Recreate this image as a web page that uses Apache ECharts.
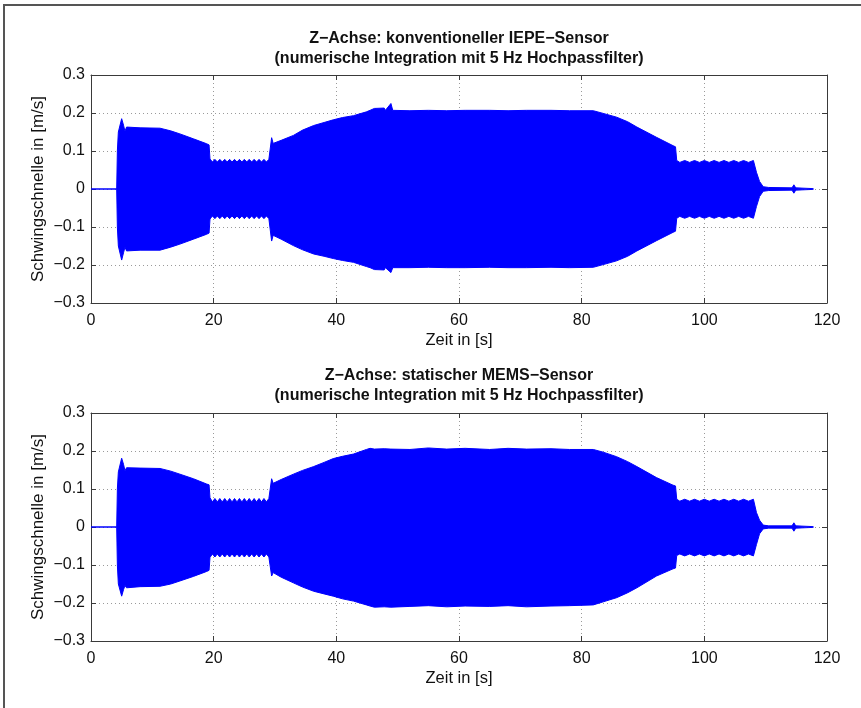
<!DOCTYPE html>
<html>
<head>
<meta charset="utf-8">
<script src="https://cdn.jsdelivr.net/npm/echarts@6/dist/echarts.min.js"></script>
<style>
html,body{margin:0;padding:0;background:#fff;}
#chart{width:861px;height:708px;}
</style>
</head>
<body>
<div id="chart"></div>
<script>
// ---- data ----
const xTicks = [0, 20, 40, 60, 80, 100, 120];
const yTicks = [-0.3, -0.2, -0.1, 0, 0.1, 0.2, 0.3];

const titleIEPE = 'Z\u2212Achse: konventioneller IEPE\u2212Sensor';
const titleMEMS = 'Z\u2212Achse: statischer MEMS\u2212Sensor';
const subTitle = '(numerische Integration mit 5 Hz Hochpassfilter)';
const xName = 'Zeit in [s]';
const yName = 'Schwingschnelle in [m/s]';

// time stamps of envelope points [s]
const timeS = [0, 4.19, 4.3, 4.46, 5.0, 5.3, 5.54, 5.8, 6.1, 8.0, 11.25, 13.0, 14.5, 16.7, 18.86, 19.25, 19.4,
  19.8, 20.2, 20.6, 21.0, 21.4, 21.8, 22.2, 22.6, 23.0, 23.4, 23.8, 24.2, 24.6, 25.0, 25.4, 25.8, 26.2, 26.6, 27.0, 27.4, 27.8, 28.2, 28.6, 29.0,
  29.25, 29.45, 29.7, 31.0, 33.0, 34.5, 36.3, 38.0, 39.5, 41.0, 42.8, 44.9, 45.5, 46.2, 46.4, 47.8, 48.0, 48.9, 49.2,
  52, 55, 58, 61, 65, 68, 71, 75, 78, 81.9, 83.5, 85.7, 87.5, 89.0, 92.2, 94.9, 95.3, 95.5,
  96.0, 96.8, 97.6, 98.4, 99.2, 100.0, 100.8, 101.6, 102.4, 103.2, 104.0, 104.8, 105.6, 106.4, 107.2, 108.0,
  108.3, 108.5, 109.0, 109.6, 110.5, 114.3, 114.6, 114.9, 117.8];

// IEPE sensor: upper / lower envelope [m/s]
const iepeUpper = [0, 0, 0.10, 0.15, 0.185, 0.168, 0.152, 0.163, 0.160, 0.161, 0.160, 0.153, 0.145, 0.132, 0.119, 0.116, 0.079,
  0.071, 0.078, 0.071, 0.078, 0.071, 0.078, 0.071, 0.078, 0.071, 0.078, 0.071, 0.078, 0.071, 0.078, 0.071, 0.078, 0.071, 0.078, 0.071, 0.078, 0.071, 0.078, 0.071, 0.078,
  0.080, 0.135, 0.120, 0.128, 0.141, 0.155, 0.167, 0.175, 0.182, 0.188, 0.193, 0.203, 0.207, 0.212, 0.207, 0.213, 0.207, 0.225, 0.207,
  0.206, 0.207, 0.206, 0.207, 0.207, 0.206, 0.207, 0.207, 0.206, 0.206, 0.199, 0.189, 0.177, 0.163, 0.136, 0.114, 0.111, 0.075,
  0.070, 0.075, 0.070, 0.075, 0.070, 0.075, 0.070, 0.075, 0.070, 0.075, 0.070, 0.075, 0.070, 0.075, 0.070, 0.075,
  0.073, 0.044, 0.020, 0.006, 0.004, 0.003, 0.011, 0.003, 0.001];
const iepeLower = [0, 0, -0.10, -0.15, -0.187, -0.168, -0.153, -0.163, -0.161, -0.161, -0.161, -0.153, -0.145, -0.132, -0.119, -0.116, -0.079,
  -0.071, -0.078, -0.071, -0.078, -0.071, -0.078, -0.071, -0.078, -0.071, -0.078, -0.071, -0.078, -0.071, -0.078, -0.071, -0.078, -0.071, -0.078, -0.071, -0.078, -0.071, -0.078, -0.071, -0.078,
  -0.080, -0.137, -0.122, -0.132, -0.149, -0.160, -0.171, -0.177, -0.183, -0.188, -0.193, -0.204, -0.207, -0.212, -0.207, -0.213, -0.207, -0.220, -0.207,
  -0.207, -0.206, -0.207, -0.207, -0.206, -0.207, -0.207, -0.206, -0.207, -0.206, -0.199, -0.189, -0.177, -0.163, -0.136, -0.114, -0.111, -0.077,
  -0.072, -0.077, -0.072, -0.077, -0.072, -0.077, -0.072, -0.077, -0.072, -0.077, -0.072, -0.077, -0.072, -0.077, -0.072, -0.077,
  -0.075, -0.046, -0.020, -0.006, -0.004, -0.003, -0.011, -0.003, -0.001];

// MEMS sensor: upper / lower envelope [m/s]
const memsUpper = [0, 0, 0.10, 0.145, 0.181, 0.165, 0.148, 0.156, 0.154, 0.155, 0.154, 0.147, 0.139, 0.127, 0.113, 0.111, 0.077,
  0.066, 0.075, 0.066, 0.075, 0.066, 0.075, 0.066, 0.075, 0.066, 0.075, 0.066, 0.075, 0.066, 0.075, 0.066, 0.075, 0.066, 0.075, 0.066, 0.075, 0.066, 0.075, 0.066, 0.075,
  0.076, 0.127, 0.115, 0.125, 0.139, 0.149, 0.159, 0.170, 0.180, 0.186, 0.192, 0.204, 0.207, 0.205, 0.209, 0.206, 0.208, 0.205, 0.207,
  0.204, 0.208, 0.205, 0.207, 0.204, 0.207, 0.205, 0.206, 0.204, 0.204, 0.197, 0.185, 0.172, 0.159, 0.130, 0.110, 0.108, 0.073,
  0.068, 0.073, 0.068, 0.073, 0.068, 0.073, 0.068, 0.073, 0.068, 0.073, 0.068, 0.073, 0.068, 0.073, 0.068, 0.073,
  0.071, 0.038, 0.018, 0.005, 0.003, 0.003, 0.011, 0.003, 0.001];
const memsLower = [0, 0, -0.10, -0.15, -0.182, -0.165, -0.154, -0.160, -0.157, -0.157, -0.156, -0.150, -0.142, -0.130, -0.117, -0.114, -0.080,
  -0.071, -0.079, -0.071, -0.079, -0.071, -0.079, -0.071, -0.079, -0.071, -0.079, -0.071, -0.079, -0.071, -0.079, -0.071, -0.079, -0.071, -0.079, -0.071, -0.079, -0.071, -0.079, -0.071, -0.079,
  -0.080, -0.129, -0.120, -0.132, -0.147, -0.158, -0.169, -0.176, -0.182, -0.189, -0.195, -0.205, -0.208, -0.211, -0.207, -0.210, -0.208, -0.211, -0.207,
  -0.209, -0.207, -0.210, -0.208, -0.209, -0.207, -0.210, -0.208, -0.207, -0.205, -0.197, -0.186, -0.173, -0.160, -0.129, -0.110, -0.108, -0.075,
  -0.071, -0.076, -0.071, -0.076, -0.071, -0.076, -0.071, -0.076, -0.071, -0.076, -0.071, -0.076, -0.071, -0.076, -0.071, -0.076,
  -0.074, -0.046, -0.018, -0.005, -0.003, -0.003, -0.011, -0.003, -0.001];

// ---- chart ----
const FONT = 'Liberation Sans, Arial, Helvetica, sans-serif';
const BLUE = '#0000ff';
const AX = '#3a3a3a';

function pairs(t, v) { return t.map((x, i) => [x, v[i]]); }
function fmtY(v) {
  if (Math.abs(v) < 1e-9) return '0';
  return v.toFixed(1).replace('-', '\u2212');
}

const grids = [
  { left: 91, top: 75, width: 736, height: 228 },
  { left: 91, top: 413, width: 736, height: 228 }
];

const xAxes = [], yAxes = [];
grids.forEach((g, gi) => {
  xAxes.push({
    type: 'value', gridIndex: gi, position: 'bottom', min: 0, max: 120, interval: 20,
    name: xName, nameLocation: 'middle', nameGap: 29, nameMoveOverlap: false,
    nameTextStyle: { fontFamily: FONT, fontSize: 16.5, color: '#111' },
    axisLine: { show: true, onZero: false, lineStyle: { color: AX, width: 1 } },
    axisTick: { show: true, inside: true, length: 5, lineStyle: { color: AX } },
    axisLabel: { show: true, fontFamily: FONT, fontSize: 16, color: '#111', margin: 10,
      formatter: v => xTicks.includes(v) ? String(v) : '' },
    splitLine: { show: true, lineStyle: { color: '#9a9a9a', type: [1, 3], width: 1 } }
  });
  xAxes.push({
    type: 'value', gridIndex: gi, position: 'top', min: 0, max: 120, interval: 20,
    axisLine: { show: true, onZero: false, lineStyle: { color: AX, width: 1 } },
    axisTick: { show: true, inside: true, length: 5, lineStyle: { color: AX } },
    axisLabel: { show: false }, splitLine: { show: false }
  });
  yAxes.push({
    type: 'value', gridIndex: gi, position: 'left', min: -0.3, max: 0.3, interval: 0.1,
    name: yName, nameLocation: 'middle', nameGap: 44, nameRotate: 90, nameMoveOverlap: false,
    nameTextStyle: { fontFamily: FONT, fontSize: 17, color: '#111' },
    axisLine: { show: true, onZero: false, lineStyle: { color: AX, width: 1 } },
    axisTick: { show: true, inside: true, length: 5, lineStyle: { color: AX } },
    axisLabel: { show: true, fontFamily: FONT, fontSize: 16, color: '#111', margin: 6, formatter: fmtY },
    splitLine: { show: true, lineStyle: { color: '#9a9a9a', type: [1, 3], width: 1 } }
  });
  yAxes.push({
    type: 'value', gridIndex: gi, position: 'right', min: -0.3, max: 0.3, interval: 0.1,
    axisLine: { show: true, onZero: false, lineStyle: { color: AX, width: 1 } },
    axisTick: { show: true, inside: true, length: 5, lineStyle: { color: AX } },
    axisLabel: { show: false }, splitLine: { show: false }
  });
});

function envSeries(gi, up, lo) {
  const base = {
    type: 'line', xAxisIndex: gi * 2, yAxisIndex: gi * 2,
    showSymbol: false, symbol: 'none', smooth: false,
    lineStyle: { color: BLUE, width: 1 }, itemStyle: { color: BLUE },
    areaStyle: { color: BLUE, opacity: 1, origin: 'auto' }, z: 3
  };
  return [
    Object.assign({}, base, { data: pairs(timeS, up) }),
    Object.assign({}, base, { data: pairs(timeS, lo) })
  ];
}

const chart = echarts.init(document.getElementById('chart'), null, { renderer: 'canvas' });
chart.setOption({
  animation: false,
  backgroundColor: '#ffffff',
  title: [
    { text: titleIEPE + '\n' + subTitle, left: 454, top: 24, textAlign: 'center',
      textStyle: { fontFamily: FONT, fontSize: 16, fontWeight: 'bold', color: '#111', lineHeight: 20 } },
    { text: titleMEMS + '\n' + subTitle, left: 454, top: 361, textAlign: 'center',
      textStyle: { fontFamily: FONT, fontSize: 16, fontWeight: 'bold', color: '#111', lineHeight: 20 } }
  ],
  graphic: [
    { type: 'line', shape: { x1: 3, y1: 5, x2: 861, y2: 5 }, style: { stroke: '#555', lineWidth: 2 }, silent: true },
    { type: 'line', shape: { x1: 4, y1: 5, x2: 4, y2: 708 }, style: { stroke: '#555', lineWidth: 2 }, silent: true }
  ],
  grid: grids,
  xAxis: xAxes,
  yAxis: yAxes,
  series: [].concat(envSeries(0, iepeUpper, iepeLower), envSeries(1, memsUpper, memsLower))
});
</script>
</body>
</html>
